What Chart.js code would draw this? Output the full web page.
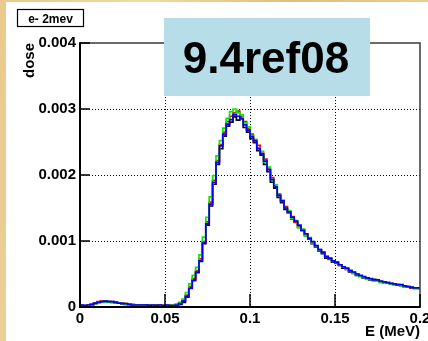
<!DOCTYPE html>
<html>
<head>
<meta charset="utf-8">
<script src="https://cdn.jsdelivr.net/npm/chart.js@4.4.1/dist/chart.umd.min.js"></script>
<style>
html,body{margin:0;padding:0;overflow:hidden;width:428px;height:341px;}
body{background:linear-gradient(100deg,#e9c98d 0%,#f1d9a6 30%,#e3bd7c 60%,#efd49c 100%);}
#wrap{position:absolute;left:6px;top:2px;width:440px;height:339px;background:#fff;}
</style>
</head>
<body>
<div id="wrap"><canvas id="c" width="440" height="339"></canvas></div>
<script>
// ---- data (bins of 0.002 MeV from 0 to 0.2 MeV) ----
const E_MIN = 0, E_MAX = 0.2, N_BINS = 100;
const xTickValues = [0, 0.05, 0.1, 0.15, 0.2];
const xTickLabels = ["0", "0.05", "0.1", "0.15", "0.2"];
const yTickValues = [0, 0.001, 0.002, 0.003, 0.004];
const yTickLabels = ["0", "0.001", "0.002", "0.003", "0.004"];
const seriesNames = ["black", "red", "green", "blue"];

const doseBlack = [
0.00003,0.00002,0.00002,0.00002,0.00003,0.00005,0.00007,0.00008,0.00008,0.00008,
0.00007,0.00007,0.00006,0.00005,0.00004,0.00004,0.00003,0.00003,0.00003,0.00002,
0.00003,0.00003,0.00002,0.00003,0.00002,0.00002,0.00002,0.00002,0.00002,0.00003,
0.00004,0.00007,0.00015,0.00029,0.00041,0.00052,0.00069,0.00096,0.00124,0.00153,
0.00186,0.00216,0.00240,0.00259,0.00274,0.00280,0.00288,0.00283,0.00286,0.00272,
0.00265,0.00255,0.00249,0.00237,0.00230,0.00216,0.00205,0.00189,0.00180,0.00166,
0.00158,0.00148,0.00143,0.00133,0.00129,0.00121,0.00116,0.00108,0.00103,0.00096,
0.00091,0.00085,0.00081,0.00074,0.00073,0.00068,0.00067,0.00063,0.00059,0.00058,
0.00053,0.00052,0.00048,0.00047,0.00044,0.00044,0.00041,0.00042,0.00039,0.00039,
0.00037,0.00037,0.00035,0.00035,0.00033,0.00033,0.00031,0.00031,0.00029,0.00028];

const doseRed = [
0.00002,0.00002,0.00002,0.00003,0.00004,0.00006,0.00008,0.00009,0.00009,0.00008,
0.00008,0.00007,0.00006,0.00006,0.00005,0.00004,0.00004,0.00003,0.00003,0.00003,
0.00002,0.00003,0.00002,0.00003,0.00003,0.00002,0.00002,0.00003,0.00002,0.00004,
0.00006,0.00010,0.00018,0.00031,0.00043,0.00055,0.00073,0.00099,0.00129,0.00159,
0.00192,0.00222,0.00246,0.00265,0.00281,0.00289,0.00294,0.00297,0.00288,0.00281,
0.00270,0.00262,0.00251,0.00245,0.00233,0.00224,0.00209,0.00196,0.00183,0.00171,
0.00160,0.00152,0.00143,0.00137,0.00128,0.00123,0.00117,0.00110,0.00104,0.00098,
0.00092,0.00087,0.00082,0.00077,0.00072,0.00070,0.00066,0.00064,0.00060,0.00057,
0.00055,0.00051,0.00050,0.00047,0.00045,0.00043,0.00042,0.00040,0.00040,0.00038,
0.00038,0.00036,0.00036,0.00034,0.00034,0.00032,0.00032,0.00030,0.00029,0.00029];

const doseGreen = [
0.00002,0.00001,0.00002,0.00002,0.00003,0.00005,0.00007,0.00008,0.00007,0.00008,
0.00007,0.00006,0.00006,0.00005,0.00004,0.00004,0.00003,0.00003,0.00002,0.00003,
0.00002,0.00002,0.00003,0.00002,0.00002,0.00002,0.00003,0.00002,0.00003,0.00004,
0.00007,0.00012,0.00022,0.00035,0.00048,0.00060,0.00079,0.00106,0.00136,0.00167,
0.00199,0.00229,0.00252,0.00271,0.00286,0.00296,0.00300,0.00294,0.00291,0.00279,
0.00273,0.00260,0.00254,0.00241,0.00236,0.00220,0.00212,0.00193,0.00185,0.00169,
0.00162,0.00150,0.00146,0.00134,0.00131,0.00120,0.00118,0.00108,0.00105,0.00097,
0.00093,0.00086,0.00083,0.00076,0.00074,0.00069,0.00068,0.00063,0.00061,0.00057,
0.00055,0.00051,0.00049,0.00046,0.00045,0.00042,0.00042,0.00040,0.00039,0.00037,
0.00037,0.00036,0.00035,0.00034,0.00034,0.00032,0.00031,0.00030,0.00030,0.00028];

const doseBlue = [
0.00004,0.00003,0.00002,0.00003,0.00004,0.00006,0.00007,0.00008,0.00009,0.00008,
0.00008,0.00007,0.00006,0.00005,0.00005,0.00004,0.00003,0.00003,0.00003,0.00003,
0.00003,0.00002,0.00003,0.00002,0.00003,0.00002,0.00003,0.00002,0.00002,0.00003,
0.00005,0.00009,0.00016,0.00028,0.00040,0.00053,0.00070,0.00097,0.00126,0.00156,
0.00189,0.00219,0.00244,0.00262,0.00277,0.00284,0.00291,0.00289,0.00285,0.00276,
0.00268,0.00258,0.00252,0.00240,0.00232,0.00221,0.00208,0.00193,0.00182,0.00169,
0.00161,0.00150,0.00144,0.00136,0.00130,0.00124,0.00116,0.00111,0.00104,0.00099,
0.00093,0.00087,0.00083,0.00076,0.00074,0.00070,0.00068,0.00064,0.00061,0.00059,
0.00055,0.00053,0.00050,0.00048,0.00046,0.00044,0.00043,0.00041,0.00041,0.00039,
0.00038,0.00037,0.00036,0.00035,0.00034,0.00034,0.00032,0.00031,0.00030,0.00029];

// ---- helpers ----
const binWidth = (E_MAX - E_MIN) / N_BINS;
function toSteps(vals) {
  const pts = vals.map((v, i) => ({x: E_MIN + i * binWidth, y: v}));
  pts.push({x: E_MAX, y: vals[vals.length - 1]});
  return pts;
}
function mkDs(label, vals, color) {
  return {label, data: toSteps(vals), borderColor: color, borderWidth: 1.7,
          stepped: 'after', pointRadius: 0, fill: false, tension: 0};
}

const FONT = "'Liberation Sans', Arial, Helvetica, sans-serif";

const framePlugin = {
  id: 'frame',
  afterDatasetsDraw(chart) {
    const {ctx, chartArea: a, scales: {x, y}} = chart;
    ctx.save();
    // top & right frame
    ctx.strokeStyle = '#3a3a3a'; ctx.lineWidth = 1.5;
    ctx.beginPath();
    ctx.moveTo(a.left, a.top); ctx.lineTo(a.right, a.top); ctx.lineTo(a.right, a.bottom);
    ctx.stroke();
    // axes
    ctx.strokeStyle = '#000'; ctx.lineWidth = 2;
    ctx.beginPath();
    ctx.moveTo(a.left, a.top - 0.75); ctx.lineTo(a.left, a.bottom); ctx.lineTo(a.right + 0.75, a.bottom);
    ctx.stroke();
    // inner tick marks
    ctx.lineWidth = 1.5;
    ctx.beginPath();
    yTickValues.forEach(v => {
      const py = y.getPixelForValue(v);
      ctx.moveTo(a.left, py); ctx.lineTo(a.left + 10, py);
    });
    xTickValues.forEach(v => {
      const px = x.getPixelForValue(v);
      ctx.moveTo(px, a.bottom); ctx.lineTo(px, a.bottom - 13);
    });
    ctx.stroke();
    ctx.restore();
  },
  afterDraw(chart) {
    const {ctx} = chart;
    ctx.save();
    // histogram title box
    ctx.fillStyle = '#fff'; ctx.fillRect(11, 7, 67, 18);
    ctx.strokeStyle = '#000'; ctx.lineWidth = 1.2; ctx.strokeRect(11.5, 7.5, 66, 17);
    ctx.fillStyle = '#000'; ctx.font = 'bold 12px ' + FONT;
    ctx.textAlign = 'center'; ctx.textBaseline = 'alphabetic';
    ctx.fillText('e- 2mev', 44.5, 20.5);
    // overlay label
    ctx.fillStyle = '#b7dde8'; ctx.fillRect(158, 16, 206, 78);
    ctx.fillStyle = '#000'; ctx.font = 'bold 44px ' + FONT;
    ctx.fillText('9.4ref08', 260, 71);
    ctx.restore();
  }
};

const gridColor = (ctx) => {
  const v = ctx.tick && ctx.tick.value;
  return (v === undefined || v <= 0 || v >= ctx.scale.max - 1e-12) ? 'rgba(0,0,0,0)' : '#000';
};

new Chart(document.getElementById('c'), {
  type: 'line',
  data: {
    datasets: [
      mkDs(seriesNames[3], doseBlue, '#0000ff'),
      mkDs(seriesNames[2], doseGreen, '#00ee00'),
      mkDs(seriesNames[1], doseRed, '#ff0000'),
      mkDs(seriesNames[0], doseBlack, '#000000')
    ]
  },
  options: {
    responsive: false,
    animation: false,
    layout: {padding: {top: 41, right: 26, left: 0, bottom: 0}},
    plugins: {legend: {display: false}, tooltip: {enabled: false}, title: {display: false}},
    scales: {
      x: {
        type: 'linear', min: E_MIN, max: E_MAX,
        afterBuildTicks: s => { s.ticks = xTickValues.map(v => ({value: v})); },
        afterFit: s => { s.height = 34; },
        ticks: {
          autoSkip: false, maxRotation: 0, padding: 3, color: '#000',
          font: {family: FONT, size: 15, weight: 'bold'},
          callback: (v, i) => xTickLabels[i]
        },
        grid: {color: gridColor, lineWidth: 1, drawTicks: false, borderDash: [1, 2]},
        border: {display: false, dash: [1, 2]},
        title: {display: true, text: 'E (MeV)', align: 'end', color: '#000',
                font: {family: FONT, size: 15, weight: 'bold', lineHeight: 1.2},
                padding: {top: 0, bottom: 0}}
      },
      y: {
        type: 'linear', min: 0, max: 0.004,
        afterBuildTicks: s => { s.ticks = yTickValues.map(v => ({value: v})); },
        afterFit: s => { s.width = 74; },
        ticks: {
          autoSkip: false, padding: 4, color: '#000',
          font: {family: FONT, size: 15, weight: 'bold'},
          callback: (v, i) => yTickLabels[i]
        },
        grid: {color: gridColor, lineWidth: 1, drawTicks: false},
        border: {display: false, dash: [1, 2]},
        title: {display: true, text: 'dose', align: 'end', color: '#000',
                font: {family: FONT, size: 15, weight: 'bold', lineHeight: 1.2},
                padding: {top: 15, bottom: 0}}
      }
    }
  },
  plugins: [framePlugin]
});
</script>
</body>
</html>
